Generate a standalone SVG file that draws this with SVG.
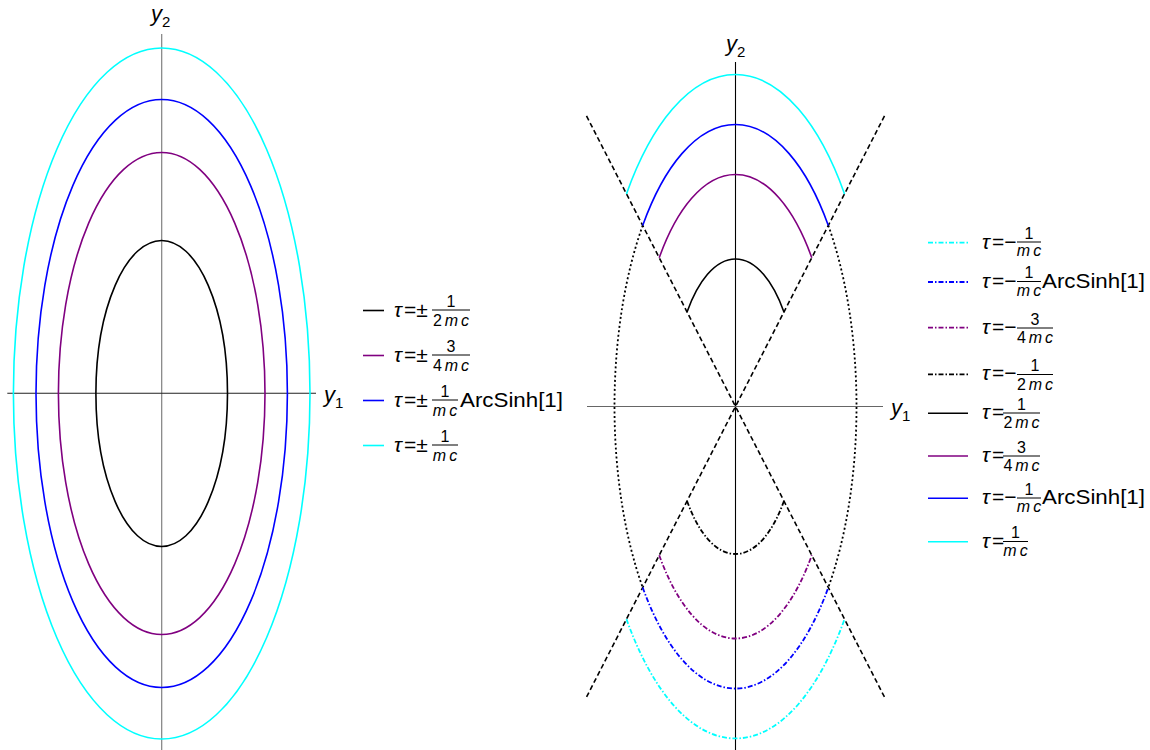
<svg xmlns="http://www.w3.org/2000/svg" width="1150" height="750" viewBox="0 0 1150 750">
<style>
text{font-family:"Liberation Sans",Arial,sans-serif;fill:#000}
.m{font-size:21px}
.f{font-size:16px}
.ax{font-size:22px;font-style:italic}
.sub{font-size:15px}
.i{font-style:italic}
.c{fill:none;stroke-width:1.6}
.dd{stroke-dasharray:5,2,1.5,2;stroke-width:1.8}
.dash{stroke-dasharray:5,3}
.dot{stroke-dasharray:2,2.5;stroke-width:1.8}
.bar{stroke:#000;stroke-width:1}
</style>
<rect width="1150" height="750" fill="#fff"/>

<!-- LEFT PLOT -->
<g id="left-axes">
<line x1="161.7" y1="34" x2="161.7" y2="750" stroke="#808080" stroke-width="1.2"/>
<line x1="7.3" y1="393.3" x2="316" y2="393.3" stroke="#222" stroke-width="1.1"/>
<text x="151" y="21" class="ax">y<tspan class="sub" font-style="normal" dy="6">2</tspan></text>
<text x="324" y="402" class="ax">y<tspan class="sub" font-style="normal" dy="6">1</tspan></text>
</g>
<g id="left-ellipses">
<ellipse id="le-cyan" cx="161.7" cy="393.5" rx="148.3" ry="345.5" class="c" stroke="#00FFFF"/>
<ellipse id="le-blue" cx="161.7" cy="393.5" rx="125.7" ry="294" class="c" stroke="#0000FF"/>
<ellipse id="le-purple" cx="161.7" cy="393.5" rx="103.3" ry="241" class="c" stroke="#800080"/>
<ellipse id="le-black" cx="161.7" cy="393.5" rx="65.8" ry="153" class="c" stroke="#000"/>
</g>

<g id="left-legend">
<g id="ll1">
<line x1="363" y1="310.5" x2="384" y2="310.5" class="c" stroke="#000"/>
<text x="394" y="316.5" class="m"><tspan class="i">τ</tspan></text>
<text x="404" y="316.5" class="m">=±</text>
<line x1="432" y1="310" x2="470" y2="310" class="bar"/>
<text x="451" y="306.5" class="f" text-anchor="middle">1</text>
<text x="451" y="326" class="f" text-anchor="middle">2<tspan class="i" dx="3">m</tspan><tspan class="i" dx="3">c</tspan></text>
</g>
<g id="ll2">
<line x1="363" y1="355.5" x2="384" y2="355.5" class="c" stroke="#800080"/>
<text x="394" y="361.5" class="m"><tspan class="i">τ</tspan></text>
<text x="404" y="361.5" class="m">=±</text>
<line x1="432" y1="355" x2="470" y2="355" class="bar"/>
<text x="451" y="351.5" class="f" text-anchor="middle">3</text>
<text x="451" y="371" class="f" text-anchor="middle">4<tspan class="i" dx="3">m</tspan><tspan class="i" dx="3">c</tspan></text>
</g>
<g id="ll3">
<line x1="363" y1="400.5" x2="384" y2="400.5" class="c" stroke="#0000FF"/>
<text x="394" y="406.5" class="m"><tspan class="i">τ</tspan></text>
<text x="404" y="406.5" class="m">=±</text>
<line x1="432" y1="400" x2="458" y2="400" class="bar"/>
<text x="445" y="396.5" class="f" text-anchor="middle">1</text>
<text x="445" y="416" class="f" text-anchor="middle"><tspan class="i">m</tspan><tspan class="i" dx="3">c</tspan></text>
<text x="460" y="406.5" class="m" textLength="103" lengthAdjust="spacingAndGlyphs">ArcSinh[1]</text>
</g>
<g id="ll4">
<line x1="363" y1="445.5" x2="384" y2="445.5" class="c" stroke="#00FFFF"/>
<text x="394" y="451.5" class="m"><tspan class="i">τ</tspan></text>
<text x="404" y="451.5" class="m">=±</text>
<line x1="432" y1="445" x2="458" y2="445" class="bar"/>
<text x="445" y="441.5" class="f" text-anchor="middle">1</text>
<text x="445" y="461" class="f" text-anchor="middle"><tspan class="i">m</tspan><tspan class="i" dx="3">c</tspan></text>
</g>
</g>

<!-- RIGHT PLOT -->
<g id="right-axes">
<line x1="735.5" y1="62" x2="735.5" y2="750" stroke="#000" stroke-width="1.1"/>
<line x1="587" y1="406.5" x2="883" y2="406.5" stroke="#666" stroke-width="1.1"/>
<text x="726" y="51" class="ax">y<tspan class="sub" font-style="normal" dy="6">2</tspan></text>
<text x="891" y="415" class="ax">y<tspan class="sub" font-style="normal" dy="6">1</tspan></text>
</g>

<g id="connectors">
<line x1="586.5" y1="115.9" x2="884.5" y2="697.1" class="c dash" stroke="#000"/>
<line x1="884.5" y1="115.9" x2="586.5" y2="697.1" class="c dash" stroke="#000"/>
<path d="M642.7,225.5 A121,282 0 0 0 642.7,587.5" class="c dot" stroke="#000"/>
<path d="M828.3,225.5 A121,282 0 0 1 828.3,587.5" class="c dot" stroke="#000"/>
</g>

<g id="right-top-arcs">
<path id="rt-cyan" d="M626.45,193.9 A142,332 0 0 1 844.55,193.9" class="c" stroke="#00FFFF"/>
<path id="rt-blue" d="M642.7,225.5 A121,282 0 0 1 828.3,225.5" class="c" stroke="#0000FF"/>
<path id="rt-purple" d="M659.22,257.75 A99.4,232 0 0 1 811.78,257.75" class="c" stroke="#800080"/>
<path id="rt-black" d="M687.05,312 A63.1,147.5 0 0 1 783.95,312" class="c" stroke="#000"/>
</g>
<g id="right-bottom-arcs">
<path id="rb-cyan" d="M626.45,619.1 A142,332 0 0 0 844.55,619.1" class="c dd" stroke="#00FFFF"/>
<path id="rb-blue" d="M642.7,587.5 A121,282 0 0 0 828.3,587.5" class="c dd" stroke="#0000FF"/>
<path id="rb-purple" d="M659.22,555.25 A99.4,232 0 0 0 811.78,555.25" class="c dd" stroke="#800080"/>
<path id="rb-black" d="M687.05,501 A63.1,147.5 0 0 0 783.95,501" class="c dd" stroke="#000"/>
</g>

<g id="right-legend">
<g id="rl1">
<line x1="928" y1="242.7" x2="968" y2="242.7" class="c dd" stroke="#00FFFF"/>
<text x="982" y="248.5" class="m"><tspan class="i">τ</tspan></text>
<text x="992" y="248.5" class="m">=−</text>
<line x1="1017" y1="242" x2="1041" y2="242" class="bar"/>
<text x="1029" y="238.5" class="f" text-anchor="middle">1</text>
<text x="1029" y="256" class="f" text-anchor="middle"><tspan class="i">m</tspan><tspan class="i" dx="3">c</tspan></text>
</g>
<g id="rl2">
<line x1="928" y1="282" x2="968" y2="282" class="c dd" stroke="#0000FF"/>
<text x="982" y="288" class="m"><tspan class="i">τ</tspan></text>
<text x="992" y="288" class="m">=−</text>
<line x1="1017" y1="281.5" x2="1041" y2="281.5" class="bar"/>
<text x="1029" y="278" class="f" text-anchor="middle">1</text>
<text x="1029" y="295.5" class="f" text-anchor="middle"><tspan class="i">m</tspan><tspan class="i" dx="3">c</tspan></text>
<text x="1042" y="288" class="m" textLength="103" lengthAdjust="spacingAndGlyphs">ArcSinh[1]</text>
</g>
<g id="rl3">
<line x1="928" y1="327.7" x2="968" y2="327.7" class="c dd" stroke="#800080"/>
<text x="982" y="333.5" class="m"><tspan class="i">τ</tspan></text>
<text x="992" y="333.5" class="m">=−</text>
<line x1="1017" y1="328" x2="1053" y2="328" class="bar"/>
<text x="1035" y="324.5" class="f" text-anchor="middle">3</text>
<text x="1035" y="343" class="f" text-anchor="middle">4<tspan class="i" dx="3">m</tspan><tspan class="i" dx="3">c</tspan></text>
</g>
<g id="rl4">
<line x1="928" y1="374.3" x2="968" y2="374.3" class="c dd" stroke="#000"/>
<text x="982" y="380" class="m"><tspan class="i">τ</tspan></text>
<text x="992" y="380" class="m">=−</text>
<line x1="1017" y1="374.5" x2="1053" y2="374.5" class="bar"/>
<text x="1035" y="371" class="f" text-anchor="middle">1</text>
<text x="1035" y="389.5" class="f" text-anchor="middle">2<tspan class="i" dx="3">m</tspan><tspan class="i" dx="3">c</tspan></text>
</g>
<g id="rl5">
<line x1="928" y1="413.3" x2="968" y2="413.3" class="c" stroke="#000"/>
<text x="982" y="419" class="m"><tspan class="i">τ</tspan></text>
<text x="992" y="419" class="m">=</text>
<line x1="1003" y1="413" x2="1040" y2="413" class="bar"/>
<text x="1021.5" y="409.5" class="f" text-anchor="middle">1</text>
<text x="1021.5" y="428" class="f" text-anchor="middle">2<tspan class="i" dx="3">m</tspan><tspan class="i" dx="3">c</tspan></text>
</g>
<g id="rl6">
<line x1="928" y1="456" x2="968" y2="456" class="c" stroke="#800080"/>
<text x="982" y="462" class="m"><tspan class="i">τ</tspan></text>
<text x="992" y="462" class="m">=</text>
<line x1="1003" y1="456" x2="1040" y2="456" class="bar"/>
<text x="1021.5" y="452.5" class="f" text-anchor="middle">3</text>
<text x="1021.5" y="471" class="f" text-anchor="middle">4<tspan class="i" dx="3">m</tspan><tspan class="i" dx="3">c</tspan></text>
</g>
<g id="rl7">
<line x1="928" y1="498.3" x2="968" y2="498.3" class="c" stroke="#0000FF"/>
<text x="982" y="504" class="m"><tspan class="i">τ</tspan></text>
<text x="992" y="504" class="m">=−</text>
<line x1="1017" y1="498" x2="1041" y2="498" class="bar"/>
<text x="1029" y="494.5" class="f" text-anchor="middle">1</text>
<text x="1029" y="512" class="f" text-anchor="middle"><tspan class="i">m</tspan><tspan class="i" dx="3">c</tspan></text>
<text x="1042" y="504" class="m" textLength="103" lengthAdjust="spacingAndGlyphs">ArcSinh[1]</text>
</g>
<g id="rl8">
<line x1="928" y1="541.7" x2="968" y2="541.7" class="c" stroke="#00FFFF"/>
<text x="982" y="547.5" class="m"><tspan class="i">τ</tspan></text>
<text x="992" y="547.5" class="m">=</text>
<line x1="1003" y1="541.5" x2="1028" y2="541.5" class="bar"/>
<text x="1015.5" y="538" class="f" text-anchor="middle">1</text>
<text x="1015.5" y="555.5" class="f" text-anchor="middle"><tspan class="i">m</tspan><tspan class="i" dx="3">c</tspan></text>
</g>
</g>
</svg>
